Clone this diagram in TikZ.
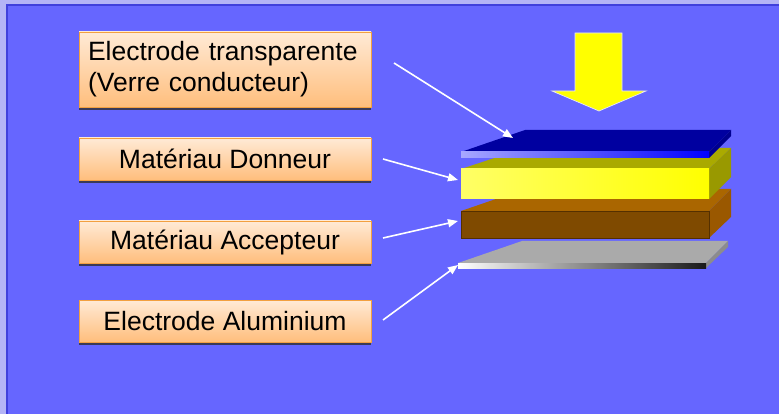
\documentclass[tikz,border=0pt]{standalone}
\usepackage{fontspec}
\setmainfont{Liberation Sans}
\usetikzlibrary{arrows.meta}

\definecolor{frame}{HTML}{B4B4F6}
\definecolor{panel}{HTML}{6666FF}
\definecolor{panelrule}{HTML}{4040DC}
\definecolor{boxtop}{HTML}{FFEAD6}
\definecolor{boxbot}{HTML}{FFBE7C}
\definecolor{boxrule}{HTML}{F2A040}
\definecolor{boxshadow}{HTML}{3A3A58}
\definecolor{bluetop}{HTML}{0000A0}
\definecolor{blueside}{HTML}{000090}
\definecolor{bluelight}{HTML}{A8A8FF}
\definecolor{bluebright}{HTML}{0000FF}
\definecolor{yeltop}{HTML}{AAAA00}
\definecolor{yelside}{HTML}{999900}
\definecolor{yellight}{HTML}{FFFF66}
\definecolor{yelfull}{HTML}{FFFF00}
\definecolor{browntop}{HTML}{AA6600}
\definecolor{brownfront}{HTML}{7F4A00}
\definecolor{brownside}{HTML}{9A5800}
\definecolor{brownrule}{HTML}{553000}
\definecolor{greytop}{HTML}{AAAAAA}
\definecolor{greyside}{HTML}{8C8C8C}
\definecolor{arrowrule}{HTML}{E4E4FF}

\tikzset{
  label box/.style={draw=boxrule, line width=0.8pt, top color=boxtop, bottom color=boxbot,
    minimum width=292pt, inner xsep=9pt, inner ysep=0pt,
    font=\fontsize{26.5}{31}\selectfont, text=black},
  pointer/.style={draw=white, line width=1.6pt,
    -{Triangle[length=10pt,width=8pt]}},
}

\begin{document}
\begin{tikzpicture}[x=1pt,y=-1pt]
  % frame and panel
  \useasboundingbox (0,0) rectangle (779,414);
  \fill[frame] (-5,-5) rectangle (790,420);
  \fill[panel] (7,5) rectangle (790,420);
  \draw[panelrule, line width=1.6pt] (7,420) -- (7,5) -- (790,5);

  % label boxes
  \node[label box, minimum height=75pt, text width=274pt, align=left] (b1) at (225,69.5)
    {Electrode transparente\\(Verre conducteur)};
  \node[label box, minimum height=42pt, align=center] (b2) at (225,159) {Matériau Donneur};
  \node[label box, minimum height=42pt, align=center] (b3) at (225,242) {Matériau Accepteur};
  \node[label box, minimum height=42pt, align=center] (b4) at (225,321) {Electrode Aluminium};
  \foreach \b in {b1,b2,b3,b4}
    \fill[boxshadow] ([yshift=-0.4pt]\b.south west) rectangle ([yshift=-2.6pt]\b.south east);

  % aluminium electrode (grey plate)
  \fill[greytop] (458,263) -- (522,241) -- (728,241) -- (706,263) -- cycle;
  \fill[greyside] (706,263) -- (728,241) -- (728,247) -- (706,268) -- cycle;
  \shade[left color=white, right color=black!90] (458,263) rectangle (706,268);

  % acceptor layer (brown block)
  \fill[browntop] (461,211) -- (525,189) -- (731,189) -- (709,211) -- cycle;
  \fill[brownside] (709,211) -- (731,189) -- (731,217) -- (709,238) -- cycle;
  \filldraw[fill=brownfront, draw=brownrule, line width=0.8pt] (461,211) rectangle (709,238);

  % donor layer (yellow block)
  \fill[yeltop] (461,169) -- (525,148) -- (731,148) -- (709,169) -- cycle;
  \fill[yelside] (709,169) -- (731,148) -- (731,177) -- (709,199) -- cycle;
  \shade[left color=yellight, right color=yelfull] (461,169) rectangle (709,199);

  % transparent electrode (blue plate)
  \fill[bluetop] (461,152) -- (525,130) -- (731,130) -- (709,152) -- cycle;
  \fill[blueside] (709,152) -- (731,130) -- (731,136) -- (709,158) -- cycle;
  \shade[left color=bluelight, right color=bluebright] (461,152) rectangle (709,158);

  % incoming light
  \filldraw[fill=yelfull, draw=arrowrule, line width=0.7pt]
    (575,33) -- (622,33) -- (622,91) -- (646,91) -- (599,111) -- (552,91) -- (575,91) -- cycle;

  % pointer ends
  \coordinate (s1) at (394,63);  \coordinate (t1) at (513,138);
  \coordinate (s2) at (383,159); \coordinate (t2) at (458,180);
  \coordinate (s3) at (383,238); \coordinate (t3) at (458,221);
  \coordinate (s4) at (383,320); \coordinate (t4) at (458,265);
  \draw[pointer] (s1) -- (t1);
  \draw[pointer] (s2) -- (t2);
  \draw[pointer] (s3) -- (t3);
  \draw[pointer] (s4) -- (t4);
\end{tikzpicture}
\end{document}
